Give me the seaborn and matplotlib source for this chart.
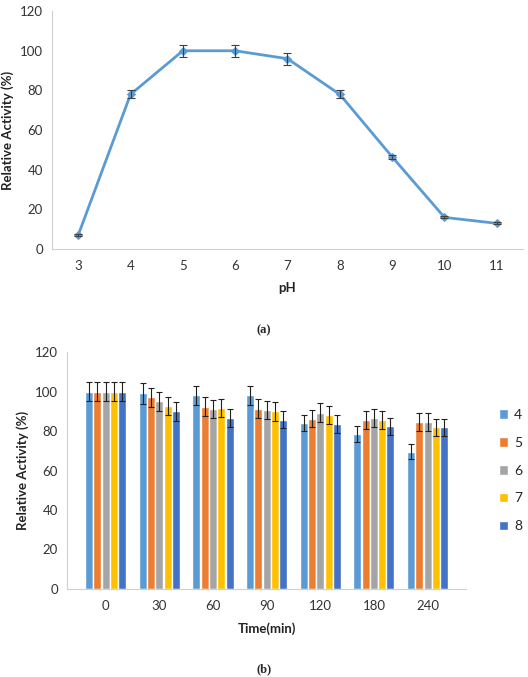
import numpy as np
import pandas as pd
import matplotlib
matplotlib.use("Agg")
import matplotlib.pyplot as plt
import seaborn as sb

# pH profile (a)
ph = [3, 4, 5, 6, 7, 8, 9, 10, 11]
ph_activity = [7, 78, 100, 100, 96, 78, 46.5, 16, 13]
ph_err = [0.5, 2, 3, 3, 3, 2, 1, 0.5, 0.5]

# pH stability over time (b)
times = ["0", "30", "60", "90", "120", "180", "240"]
ph_groups = ["4", "5", "6", "7", "8"]
act_ph4 = [100, 99.2, 98, 98, 84, 78.4, 69.6]
act_ph5 = [100, 97, 92.4, 91.4, 86.2, 85.7, 84.7]
act_ph6 = [100, 95, 91, 90.7, 89.2, 86.8, 84.7]
act_ph7 = [100, 92.7, 91.7, 89.9, 88.2, 85.7, 82]
act_ph8 = [100, 89.9, 86.5, 85.7, 83.6, 82.3, 82]
err_ph4 = [5, 5.3, 5, 5, 4, 4, 3.8]
err_ph5 = [5, 5, 4.6, 4.6, 4.3, 4.5, 4.5]
err_ph6 = [5, 5, 4.6, 4.6, 4.8, 4.6, 4.5]
err_ph7 = [5, 4.7, 4.6, 4.7, 4.4, 4.5, 4.3]
err_ph8 = [5, 4.7, 4.5, 4.3, 4.4, 4.2, 4.3]

colors = ["#5B9BD5", "#ED7D31", "#A5A5A5", "#FFC000", "#4472C4"]

sb.set_style("white")
plt.rcParams["font.family"] = ["Lato", "DejaVu Sans"]
plt.rcParams["font.size"] = 9

fig = plt.figure(figsize=(5.28, 6.77), dpi=100)
ax1 = fig.add_axes([0.0985, 0.632, 0.892, 0.3516])
ax2 = fig.add_axes([0.127, 0.130, 0.756, 0.350])

# --- (a) line chart
df_a = pd.DataFrame({"pH": ph, "act": ph_activity})
sb.lineplot(data=df_a, x="pH", y="act", ax=ax1, color="#5B9BD5", lw=2,
            marker="D", markersize=4.5, markeredgecolor="#5B9BD5")
ax1.errorbar(ph, ph_activity, yerr=ph_err, fmt="none", ecolor="#404040",
             elinewidth=0.8, capsize=3, capthick=0.8)
ax1.set_xlim(2.5, 11.5)
ax1.set_ylim(0, 120)
ax1.set_xticks(ph)
ax1.set_yticks(range(0, 121, 20))
ax1.set_xlabel("pH", fontweight="bold", fontsize=9.5, labelpad=7)
ax1.set_ylabel("Relative Activity (%)", fontweight="bold", fontsize=9.5, labelpad=4)

# --- (b) grouped bars
vals = [act_ph4, act_ph5, act_ph6, act_ph7, act_ph8]
errs = [err_ph4, err_ph5, err_ph6, err_ph7, err_ph8]
rows = []
for g, v in zip(ph_groups, vals):
    for t, a in zip(times, v):
        rows.append({"time": t, "pH": g, "act": a})
df_b = pd.DataFrame(rows)
sb.barplot(data=df_b, x="time", y="act", hue="pH", order=times,
           hue_order=ph_groups, palette=colors, width=0.77, gap=0.03,
           saturation=1, ax=ax2, errorbar=None)
for cont, e in zip(ax2.containers, errs):
    xs = [b.get_x() + b.get_width() / 2 for b in cont]
    hs = [b.get_height() for b in cont]
    ax2.errorbar(xs, hs, yerr=e, fmt="none", ecolor="#202020",
                 elinewidth=0.8, capsize=2.5, capthick=0.8)
ax2.set_ylim(0, 120)
ax2.set_yticks(range(0, 121, 20))
ax2.set_xlabel("Time(min)", fontweight="bold", fontsize=9.5, labelpad=7)
ax2.set_ylabel("Relative Activity (%)", fontweight="bold", fontsize=9.5, labelpad=4)
ax2.legend(frameon=False, loc="center left", bbox_to_anchor=(1.05, 0.5),
           handlelength=0.7, handleheight=0.7, labelspacing=1.15,
           handletextpad=0.4, fontsize=10)

for ax in (ax1, ax2):
    sb.despine(ax=ax)
    for s in ("left", "bottom"):
        ax.spines[s].set_color("#D0D0D0")
        ax.spines[s].set_linewidth(0.8)
    ax.tick_params(axis="y", length=3, color="#D0D0D0", labelsize=9.5,
                   labelcolor="#333333")
    ax.tick_params(axis="x", length=0, labelsize=9.5, labelcolor="#333333", pad=8)
    ax.yaxis.label.set_color("#222222")
    ax.xaxis.label.set_color("#222222")

fig.text(0.5, 1 - 330 / 677, "(a)", ha="center", va="center",
         family="Liberation Serif", fontweight="bold", fontsize=9)
fig.text(0.5, 1 - 669 / 677, "(b)", ha="center", va="center",
         family="Liberation Serif", fontweight="bold", fontsize=9)

plt.savefig("out.png", dpi=100)
